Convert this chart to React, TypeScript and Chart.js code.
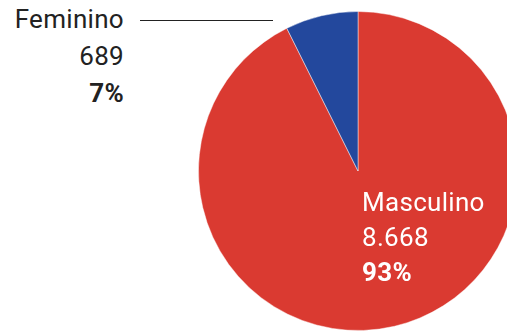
import React, { useEffect, useRef } from "react";
import { Chart, registerables } from "chart.js";

Chart.register(...registerables);

const categories = ["Masculino", "Feminino"];
const values = [8668, 689];
const valueLabels = ["8.668", "689"];
const percentLabels = ["93%", "7%"];
const colors = ["#DA3A31", "#23489D"];

export default function App() {
  const ref = useRef<HTMLCanvasElement | null>(null);

  useEffect(() => {
    if (!ref.current) return;
    const chart = new Chart(ref.current, {
      type: "pie",
      data: {
        labels: categories,
        datasets: [
          {
            data: values,
            backgroundColor: colors,
            borderColor: "rgba(255,255,255,0.45)",
            borderWidth: 1,
          },
        ],
      },
      options: {
        animation: false,
        responsive: false,
        maintainAspectRatio: false,
        layout: { padding: 0 },
        plugins: {
          legend: { display: false },
          tooltip: { enabled: false },
        },
      },
    });
    return () => chart.destroy();
  }, []);

  const font = "Roboto, 'Noto Sans', sans-serif";
  const lineStyle = (lh: number, bold: boolean, color: string): React.CSSProperties => ({
    lineHeight: lh + "px",
    fontSize: "26px",
    fontWeight: bold ? 700 : 400,
    letterSpacing: "0.3px",
    color,
    whiteSpace: "nowrap",
  });

  return (
    <div
      style={{
        position: "fixed",
        left: 0,
        top: 0,
        width: 507,
        height: 331,
        overflow: "hidden",
        background: "#fff",
        fontFamily: font,
      }}
    >
      <canvas
        ref={ref}
        width={320}
        height={320}
        style={{ position: "absolute", left: 198, top: 11, width: 320, height: 320 }}
      />
      <div style={{ position: "absolute", left: 0, top: 1, width: 124, textAlign: "right" }}>
        <div style={lineStyle(37, false, "#222")}>{categories[1]}</div>
        <div style={lineStyle(37, false, "#222")}>{valueLabels[1]}</div>
        <div style={lineStyle(37, true, "#222")}>{percentLabels[1]}</div>
      </div>
      <div
        style={{ position: "absolute", left: 140, top: 20, width: 133, height: 1, background: "#222" }}
      />
      <div style={{ position: "absolute", left: 362, top: 185 }}>
        <div style={lineStyle(35, false, "#fff")}>{categories[0]}</div>
        <div style={lineStyle(35, false, "#fff")}>{valueLabels[0]}</div>
        <div style={lineStyle(35, true, "#fff")}>{percentLabels[0]}</div>
      </div>
    </div>
  );
}
